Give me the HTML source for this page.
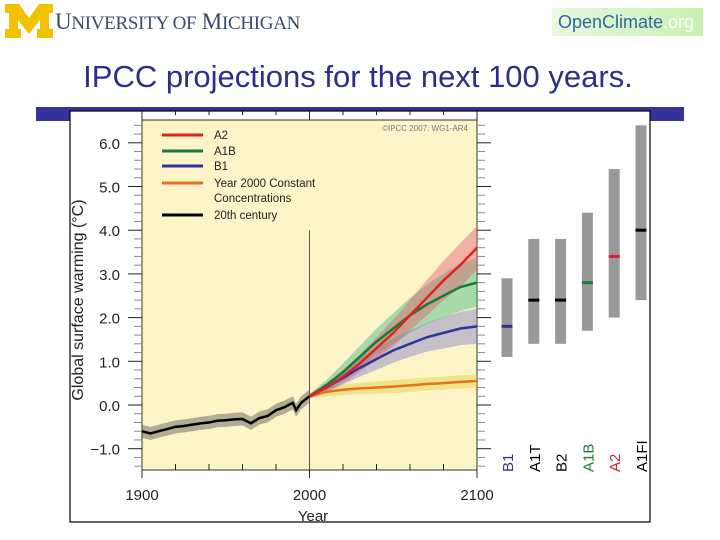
<!DOCTYPE html>
<html><head><meta charset="utf-8"><style>
body{margin:0;width:720px;height:540px;background:#fff;overflow:hidden;font-family:"Liberation Sans",sans-serif;position:relative}
</style></head><body>
<div style="position:absolute;left:5px;top:4px;width:300px;height:36px">
<svg width="48" height="34"><polygon points="0,0 14,0 24,14 34,0 48,0 48,9 44,9 44,25 48,25 48,34 32,34 32,25 35,25 35,16 24,30 13,16 13,25 16,25 16,34 0,34 0,25 4,25 4,9 0,9" fill="#f2c200"/></svg>
<span style="position:absolute;left:50px;top:5px;font-family:'Liberation Serif',serif;font-size:23px;color:#3a4a6a;letter-spacing:-0.3px">U<span style="font-size:19px">NIVERSITY OF</span> M<span style="font-size:19px">ICHIGAN</span></span>
</div>
<div style="position:absolute;left:552px;top:8px;width:151px;height:28px;background:linear-gradient(90deg,#e8f8e0,#c8f0b0);font-size:18px;line-height:28px;padding-left:6px;box-sizing:border-box;color:#2a6aa0">OpenClimate<span style="color:#fff">.org</span></div>
<div style="position:absolute;left:0;top:59px;width:716px;text-align:center;font-size:31px;color:#2e2e8a">IPCC projections for the next 100 years.</div>
<div style="position:absolute;left:36px;top:107px;width:648px;height:14px;background:#33339a"></div>
<svg id="ch" width="720" height="540" style="position:absolute;left:0;top:0"></svg>
<script>
const years20=[1900,1905,1910,1915,1920,1925,1930,1935,1940,1945,1950,1955,1960,1965,1970,1975,1980,1985,1990,1992,1995,2000];
const hist=[-0.6,-0.65,-0.6,-0.55,-0.5,-0.48,-0.45,-0.42,-0.4,-0.36,-0.35,-0.33,-0.32,-0.42,-0.3,-0.25,-0.12,-0.05,0.05,-0.12,0.05,0.2];
const years21=[2000,2010,2020,2030,2040,2050,2060,2070,2080,2090,2100];
const a2=[0.2,0.4,0.65,0.95,1.3,1.65,2.05,2.45,2.85,3.2,3.6];
const a1b=[0.2,0.45,0.75,1.1,1.45,1.75,2.05,2.3,2.5,2.7,2.8];
const b1=[0.2,0.4,0.62,0.85,1.05,1.25,1.4,1.55,1.65,1.75,1.8];
const cst=[0.2,0.3,0.35,0.38,0.4,0.42,0.45,0.48,0.5,0.53,0.55];
const a2Spread=[0.05,0.1,0.15,0.2,0.25,0.3,0.35,0.4,0.45,0.5,0.5];
const a1bSpread=[0.05,0.12,0.2,0.25,0.3,0.35,0.4,0.45,0.5,0.55,0.55];
const b1Spread=[0.05,0.1,0.15,0.2,0.25,0.28,0.3,0.33,0.36,0.38,0.4];
const cstSpread=[0.05,0.1,0.12,0.13,0.14,0.15,0.15,0.15,0.15,0.15,0.15];
const yTicks=[-1,0,1,2,3,4,5,6];
const xTicks=[1900,2000,2100];
const scen=['B1','A1T','B2','A1B','A2','A1FI'];
const scLow=[1.1,1.4,1.4,1.7,2.0,2.4];
const scHigh=[2.9,3.8,3.8,4.4,5.4,6.4];
const scBest=[1.8,2.4,2.4,2.8,3.4,4.0];
const scCol=['#333388','#000','#000','#1a7a3a','#cc2233','#000'];
const X=y=>142+(y-1900)*(477-142)/200, Y=v=>405-v*43.7;
const s=document.getElementById('ch');const NS='http://www.w3.org/2000/svg';
function mk(t,a,p){const e=document.createElementNS(NS,t);for(const k in a)e.setAttribute(k,a[k]);(p||s).appendChild(e);return e;}
const frame=mk('rect',{x:70,y:111,width:580,height:411,fill:'#fff',stroke:'#000','stroke-width':1.2});

const bg=mk('rect',{x:142,y:120,width:335,height:350,fill:'#fdf5c8',stroke:'#000','stroke-width':0.8});

for(let v=-1.4;v<=6.41;v+=0.2){const maj=Math.abs(v-Math.round(v))<0.01;
 const t=mk('line',{x1:maj?128:134,x2:142,y1:Y(v),y2:Y(v),stroke:maj?'#222':'#888','stroke-width':1});
 const t2=mk('line',{x1:477,x2:maj?491:485,y1:Y(v),y2:Y(v),stroke:maj?'#222':'#888','stroke-width':1});}
yTicks.forEach(v=>{const t=mk('text',{x:120,y:Y(v)+6,'text-anchor':'end','font-size':15,fill:'#222'});t.textContent=(v<0?'\u2212':'')+Math.abs(v).toFixed(1);});
for(let y=1900;y<=2100;y+=20){const t=mk('line',{x1:X(y),x2:X(y),y1:470,y2:y%100?464:478,stroke:'#222'});
 const t2=mk('line',{x1:X(y),x2:X(y),y1:111,y2:y%100?115:120,stroke:'#222'});}
xTicks.forEach(y=>{const t=mk('text',{x:X(y),y:500,'text-anchor':'middle','font-size':15,fill:'#222'});t.textContent=y;});
let t=mk('text',{x:313,y:521,'text-anchor':'middle','font-size':15,fill:'#222'});t.textContent='Year';
t=mk('text',{x:0,y:0,transform:'translate(83,300) rotate(-90)','text-anchor':'middle','font-size':16,fill:'#222'});t.textContent='Global surface warming (°C)';
t=mk('line',{x1:X(2000),x2:X(2000),y1:Y(4),y2:470,stroke:'#555'});
function band(xs,vs,sp,col,name){const up=xs.map((x,i)=>X(x)+','+Y(vs[i]+sp[i])),dn=xs.map((x,i)=>X(x)+','+Y(vs[i]-sp[i])).reverse();
 const p=mk('polygon',{points:up.concat(dn).join(' '),fill:col,opacity:0.45});}
function line(xs,vs,col,name){const p=mk('polyline',{points:xs.map((x,i)=>X(x)+','+Y(vs[i])).join(' '),fill:'none',stroke:col,'stroke-width':2.5});}
band(years20,hist,hist.map(()=>0.15),'#555','band-20th-century');
band(years21,cst,cstSpread,'#e0d040','band-constant');
band(years21,b1,b1Spread,'#8080c8','band-b1');
band(years21,a1b,a1bSpread,'#40b880','band-a1b');
band(years21,a2,a2Spread,'#e06070','band-a2');
line(years20,hist,'#000','line-20th-century');
line(years21,cst,'#e87020','line-constant');
line(years21,b1,'#333399','line-b1');
line(years21,a1b,'#1a7a3a','line-a1b');
line(years21,a2,'#dd2222','line-a2');
const leg=[['A2','#dd2222'],['A1B','#1a7a3a'],['B1','#333399'],['Year 2000 Constant','#e87020'],['Concentrations',null],['20th century','#000']];
const ly=[139,155,170,187,202,219];
leg.forEach((l,i)=>{if(l[1]){const a=mk('line',{x1:162,x2:203,y1:ly[i]-4,y2:ly[i]-4,stroke:l[1],'stroke-width':3});}
 const b=mk('text',{x:214,y:ly[i],'font-size':11.5,fill:'#222'});b.textContent=l[0];});
t=mk('text',{x:468,y:131,'text-anchor':'end','font-size':8,fill:'#777'});t.textContent='©IPCC  2007: WG1-AR4';
scen.forEach((n,i)=>{const cx=507+i*26.8;
 const r=mk('rect',{x:cx-5.5,y:Y(scHigh[i]),width:11,height:Y(scLow[i])-Y(scHigh[i]),fill:'#999'});
 const m=mk('rect',{x:cx-5.5,y:Y(scBest[i])-1.5,width:11,height:3,fill:scCol[i]});
 const l=mk('text',{x:0,y:0,transform:`translate(${cx+6},472) rotate(-90)`,'font-size':15,fill:scCol[i]});l.textContent=n;});
</script>
</body></html>
